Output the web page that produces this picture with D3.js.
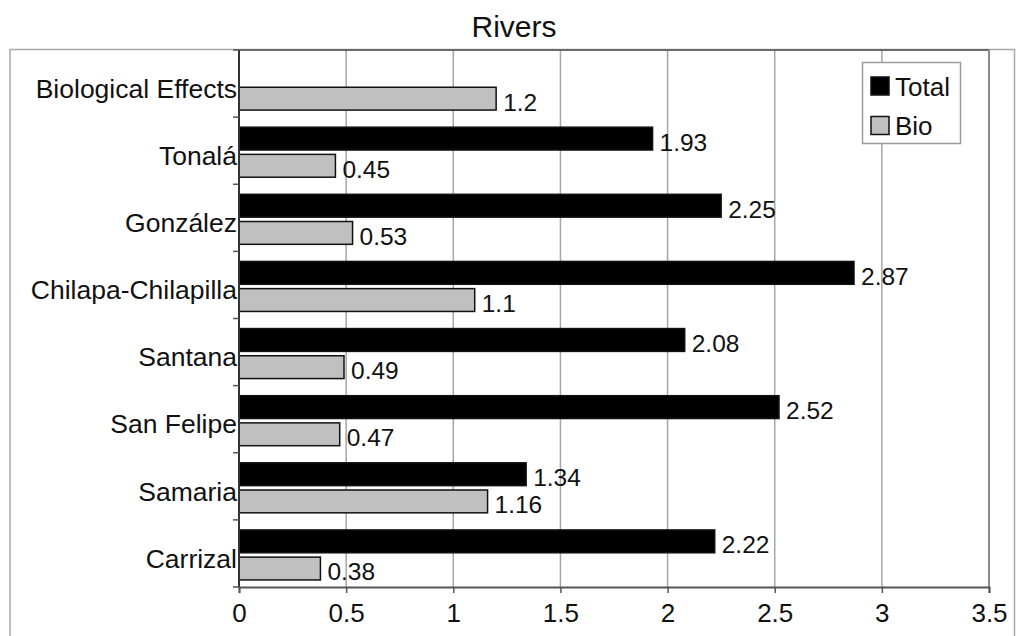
<!DOCTYPE html>
<html>
<head>
<meta charset="utf-8">
<script src="https://cdn.jsdelivr.net/npm/d3@7"></script>
<style>
  html, body { margin: 0; padding: 0; background: #ffffff; }
  svg { display: block; font-family: "Liberation Sans", Arial, sans-serif; }
</style>
</head>
<body>
<svg id="chart" width="1018" height="636"></svg>
<script>
// Rivers: total score vs biological-effects score per river
const categories = ["Biological Effects", "Tonalá", "González", "Chilapa-Chilapilla", "Santana", "San Felipe", "Samaria", "Carrizal"];
const totalValues = [null, 1.93, 2.25, 2.87, 2.08, 2.52, 1.34, 2.22];
const bioValues = [1.2, 0.45, 0.53, 1.1, 0.49, 0.47, 1.16, 0.38];
const seriesNames = ["Total", "Bio"];
const xTickValues = [0, 0.5, 1, 1.5, 2, 2.5, 3, 3.5];

const seriesColor = { Total: "#000000", Bio: "#c0c0c0" };

const svg = d3.select("#chart");
const W = 1018, H = 636;
const plot = { left: 239, right: 989, top: 50, bottom: 587 };

// Outer chart frame
svg.append("rect")
  .attr("x", 10).attr("y", 49.5)
  .attr("width", 1004.5).attr("height", 640)
  .attr("fill", "none").attr("stroke", "#a8a8a8").attr("stroke-width", 1.5);

// Title
svg.append("text")
  .attr("x", 514).attr("y", 37)
  .attr("text-anchor", "middle")
  .attr("font-size", 30)
  .attr("fill", "#111")
  .text("Rivers");

const x = d3.scaleLinear().domain([0, 3.5]).range([plot.left, plot.right]);
const y = d3.scaleBand().domain(categories).range([plot.top, plot.bottom]).paddingInner(0).paddingOuter(0);
const bw = y.bandwidth();
const ySeries = d3.scaleBand().domain(seriesNames)
  .range([bw * 0.15, bw * 0.895]).paddingInner(0.16).paddingOuter(0);

// Vertical gridlines
svg.append("g").selectAll("line")
  .data(xTickValues.filter(v => v > 0 && v < 3.5))
  .join("line")
  .attr("x1", d => x(d)).attr("x2", d => x(d))
  .attr("y1", plot.top).attr("y2", plot.bottom)
  .attr("stroke", "#a6a6a6").attr("stroke-width", 1.5);

// Plot area border (top and right)
svg.append("line")
  .attr("x1", plot.left).attr("x2", plot.right)
  .attr("y1", plot.top).attr("y2", plot.top)
  .attr("stroke", "#6a6a6a").attr("stroke-width", 2);
svg.append("line")
  .attr("x1", plot.right).attr("x2", plot.right)
  .attr("y1", plot.top).attr("y2", plot.bottom)
  .attr("stroke", "#8a8a8a").attr("stroke-width", 2);

// Bars
const rows = categories.map((c, i) => ({ cat: c, Total: totalValues[i], Bio: bioValues[i] }));
const barGroup = svg.append("g");
seriesNames.forEach(s => {
  const data = rows.filter(r => r[s] != null);
  barGroup.selectAll("rect.bar-" + s)
    .data(data)
    .join("rect")
    .attr("class", "bar-" + s)
    .attr("x", x(0))
    .attr("y", d => y(d.cat) + ySeries(s))
    .attr("width", d => x(d[s]) - x(0))
    .attr("height", ySeries.bandwidth())
    .attr("fill", seriesColor[s])
    .attr("stroke", "#111")
    .attr("stroke-width", 1.5);

  barGroup.selectAll("text.lab-" + s)
    .data(data)
    .join("text")
    .attr("class", "lab-" + s)
    .attr("x", d => x(d[s]) + 7)
    .attr("y", d => y(d.cat) + ySeries(s) + ySeries.bandwidth() + 0.5)
    .attr("font-size", 24.5)
    .attr("fill", "#111")
    .text(d => String(d[s]));
});

// X axis
const xAxis = d3.axisBottom(x)
  .tickValues(xTickValues)
  .tickFormat(d => String(d))
  .tickSize(6)
  .tickPadding(21);
const gx = svg.append("g")
  .attr("transform", `translate(0,${plot.bottom})`)
  .call(xAxis);
gx.select(".domain").attr("stroke", "#555").attr("stroke-width", 2);
gx.selectAll(".tick line").attr("stroke", "#555").attr("stroke-width", 1.5);
gx.selectAll(".tick text")
  .attr("font-size", 26)
  .attr("font-family", "Liberation Sans, Arial, sans-serif")
  .attr("fill", "#111")
  .attr("dy", "0.32em");

// Y axis line and category boundary ticks
svg.append("line")
  .attr("x1", plot.left).attr("x2", plot.left)
  .attr("y1", plot.top).attr("y2", plot.bottom)
  .attr("stroke", "#333").attr("stroke-width", 2);
const boundaries = categories.map(c => y(c)).concat([y(categories[categories.length - 1]) + bw]);
svg.append("g").selectAll("line")
  .data(boundaries)
  .join("line")
  .attr("x1", plot.left - 6).attr("x2", plot.left)
  .attr("y1", d => d).attr("y2", d => d)
  .attr("stroke", "#555").attr("stroke-width", 1.5);

// Category labels
svg.append("g").selectAll("text")
  .data(categories)
  .join("text")
  .attr("x", plot.left - 2)
  .attr("y", d => y(d) + bw / 2 + 5)
  .attr("dy", "0.35em")
  .attr("text-anchor", "end")
  .attr("font-size", 26.5)
  .attr("fill", "#111")
  .text(d => d);

// Legend
const legend = svg.append("g").attr("transform", "translate(862,62)");
legend.append("rect")
  .attr("x", 0.5).attr("y", 0.5)
  .attr("width", 98).attr("height", 81)
  .attr("fill", "#ffffff").attr("stroke", "#9a9a9a").attr("stroke-width", 1.5);
seriesNames.forEach((s, i) => {
  legend.append("rect")
    .attr("x", 9).attr("y", 15 + i * 39.5)
    .attr("width", 18).attr("height", 18)
    .attr("fill", seriesColor[s]).attr("stroke", "#111").attr("stroke-width", 1.5);
  legend.append("text")
    .attr("x", 33).attr("y", 33.5 + i * 39.5)
    .attr("font-size", 26)
    .attr("fill", "#111")
    .text(s);
});
</script>
</body>
</html>
